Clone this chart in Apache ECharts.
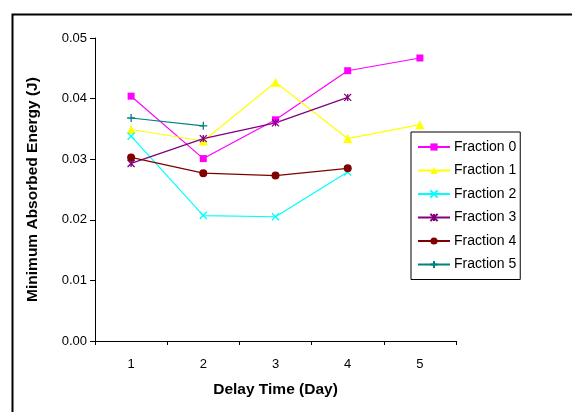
<!DOCTYPE html>
<html><head><meta charset="utf-8">
<script src="https://cdn.jsdelivr.net/npm/echarts@6/dist/echarts.min.js"></script>
<style>html,body{margin:0;padding:0;background:#fff}#c{width:572px;height:412px}</style>
</head><body><div id="c"></div>
<script>
const categories = ['1', '2', '3', '4', '5'];
const yTicks = [0, 0.01, 0.02, 0.03, 0.04, 0.05];
const seriesNames = ['Fraction 0', 'Fraction 1', 'Fraction 2', 'Fraction 3', 'Fraction 4', 'Fraction 5'];
const fraction0 = [0.0404, 0.0301, 0.0365, 0.0446, 0.0467];
const fraction1 = [0.0349, 0.0330, 0.0427, 0.0334, 0.0357];
const fraction2 = [0.0338, 0.0207, 0.0205, 0.0279];
const fraction3 = [0.0293, 0.0334, 0.0360, 0.0402];
const fraction4 = [0.0303, 0.0277, 0.0273, 0.0285];
const fraction5 = [0.0368, 0.0355];
const colors = ['#FF00FF', '#FFFF00', '#00FFFF', '#800080', '#800000', '#008080'];

const symX = 'path://M0,0L10,10M10,0L0,10';
const symAst = 'path://M0,0L10,10M10,0L0,10M5,0L5,10';
const symPlus = 'path://M5,0L5,10M0,5L10,5';
const symbols = ['rect', 'triangle', symX, symAst, 'circle', symPlus];
const sizes = [7, 9, 7, 7, 8, 8];
const allData = [fraction0, fraction1, fraction2, fraction3, fraction4, fraction5];

const chart = echarts.init(document.getElementById('c'), null, {renderer: 'canvas'});
const series = allData.map((d, i) => {
  const stroked = i === 2 || i === 3 || i === 5;
  return {
    name: seriesNames[i],
    type: 'line',
    data: d,
    symbol: symbols[i],
    symbolSize: sizes[i],
    showAllSymbol: true,
    lineStyle: {color: colors[i], width: 1.2},
    itemStyle: stroked ? {color: colors[i], borderColor: colors[i], borderWidth: 1.3} : {color: colors[i]},
    emphasis: {disabled: true},
    animation: false
  };
});

chart.setOption({
  animation: false,
  backgroundColor: '#fff',
  textStyle: {fontFamily: 'Liberation Sans, Arial, sans-serif'},
  graphic: [{
    type: 'rect', left: 10, top: 12, z: 0,
    shape: {width: 600, height: 450},
    style: {fill: 'none', stroke: '#000', lineWidth: 2}
  }],
  grid: {left: 95, right: 116, top: 38, bottom: 71},
  legend: {
    orient: 'vertical',
    left: 411, top: 132,
    data: seriesNames,
    itemWidth: 32, itemHeight: 9,
    itemGap: 9.5,
    padding: [8, 4, 8, 6],
    borderColor: '#000', borderWidth: 1,
    textStyle: {fontSize: 14, color: '#000', fontFamily: 'Liberation Sans, Arial, sans-serif', padding: [0, 0, 0, -1]},
    selectedMode: false
  },
  xAxis: {
    type: 'category',
    data: categories,
    boundaryGap: true,
    name: 'Delay Time (Day)',
    nameLocation: 'middle',
    nameGap: 41,
    nameTextStyle: {fontSize: 15.5, fontWeight: 'bold', color: '#000'},
    axisLine: {lineStyle: {color: '#000', width: 1}},
    axisTick: {show: true, inside: false, length: 4, lineStyle: {color: '#000'}},
    axisLabel: {fontSize: 13, color: '#000', margin: 17}
  },
  yAxis: {
    type: 'value',
    min: yTicks[0], max: yTicks[yTicks.length - 1], interval: 0.01,
    name: 'Minimum Absorbed Energy (J)',
    nameLocation: 'middle',
    nameGap: 54,
    nameTextStyle: {fontSize: 15.5, fontWeight: 'bold', color: '#000'},
    axisLine: {show: true, lineStyle: {color: '#000', width: 1}},
    axisTick: {show: true, length: 5, lineStyle: {color: '#000'}},
    splitLine: {show: false},
    axisLabel: {fontSize: 13, color: '#000', margin: 8, formatter: v => v.toFixed(2)}
  },
  series: series
});
</script></body></html>
